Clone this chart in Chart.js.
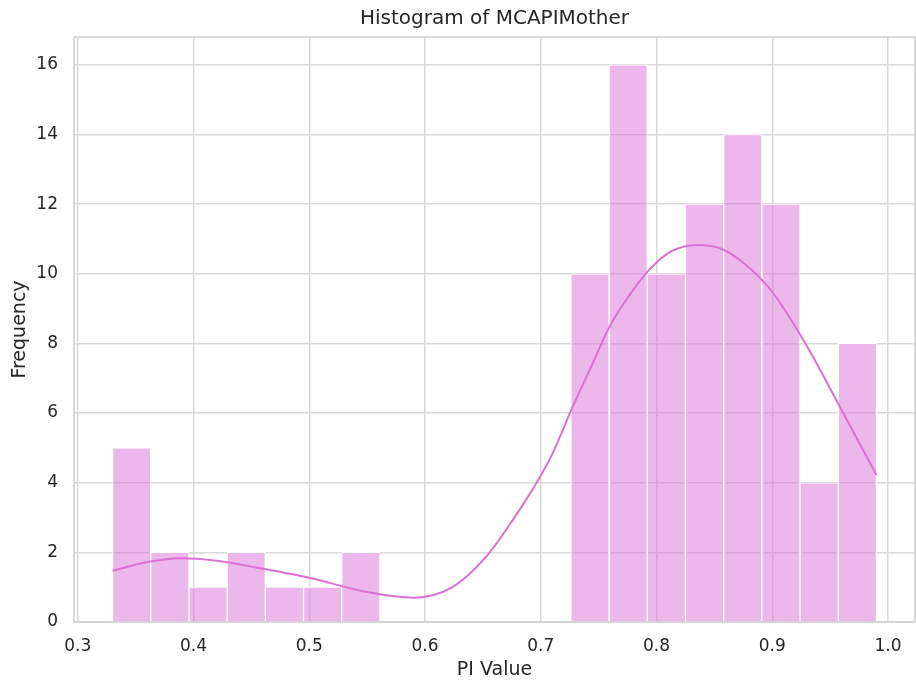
<!DOCTYPE html>
<html>
<head>
<meta charset="utf-8">
<title>Histogram of MCAPIMother</title>
<script src="https://cdn.jsdelivr.net/npm/chart.js@4.4.1/dist/chart.umd.min.js"></script>
<style>
  html, body { margin: 0; padding: 0; background: #ffffff; }
  canvas { display: block; }
</style>
</head>
<body>
<canvas id="hist" width="916" height="682"></canvas>
<script>
// histogram bins (centres, width 0.033) and counts
var binCenters = [0.3465, 0.3795, 0.4125, 0.4455, 0.4785, 0.5115, 0.5445, 0.5775, 0.6105, 0.6435,
                  0.6765, 0.7095, 0.7425, 0.7755, 0.8085, 0.8415, 0.8745, 0.9075, 0.9405, 0.9735];
var binCounts = [5, 2, 1, 2, 1, 1, 2, 0, 0, 0,
                 0, 0, 10, 16, 10, 12, 14, 12, 4, 8];

// kde curve, scaled to counts
var kdeX = [0.33, 0.36, 0.388, 0.42, 0.45, 0.5, 0.55, 0.59, 0.624, 0.6526, 0.6756, 0.6958, 0.71,
            0.7274, 0.7446, 0.759, 0.7734, 0.793, 0.813, 0.836, 0.856, 0.876, 0.899, 0.927, 0.957, 0.99];
var kdeY = [1.47, 1.72, 1.83, 1.76, 1.59, 1.27, 0.86, 0.70, 1.01, 1.87, 2.92, 3.97, 4.83,
            6.17, 7.41, 8.46, 9.23, 10.09, 10.65, 10.83, 10.72, 10.29, 9.52, 8.09, 6.27, 4.22];

var xTicks = [0.3, 0.4, 0.5, 0.6, 0.7, 0.8, 0.9, 1.0];
var xTickLabels = ['0.3', '0.4', '0.5', '0.6', '0.7', '0.8', '0.9', '1.0'];
var yTicks = [0, 2, 4, 6, 8, 10, 12, 14, 16];
var yTickLabels = ['0', '2', '4', '6', '8', '10', '12', '14', '16'];

var textColor = '#262626';
var gridColor = '#d9d9d9';
var fontFamily = "'DejaVu Sans', sans-serif";

var histPoints = [];
for (var i = 0; i < binCenters.length; i++) {
   histPoints.push({ x: binCenters[i], y: binCounts[i] });
}
var kdePoints = [];
for (var j = 0; j < kdeX.length; j++) {
   kdePoints.push({ x: kdeX[j], y: kdeY[j] });
}

// spines on all four sides + title centred over the axes
var framePlugin = {
   id: 'frame',
   afterDatasetsDraw: function (chart) {
      var a = chart.chartArea;
      var ctx = chart.ctx;
      ctx.save();
      ctx.strokeStyle = '#cfcfcf';
      ctx.lineWidth = 1.5;
      ctx.strokeRect(a.left, a.top, a.right - a.left, a.bottom - a.top);
      ctx.restore();
   },
   afterDraw: function (chart) {
      var a = chart.chartArea;
      var ctx = chart.ctx;
      ctx.save();
      ctx.fillStyle = textColor;
      ctx.font = '20px ' + fontFamily;
      ctx.textAlign = 'center';
      ctx.textBaseline = 'middle';
      ctx.fillText('Histogram of MCAPIMother', (a.left + a.right) / 2, 19);
      ctx.restore();
   }
};

var chart = new Chart(document.getElementById('hist'), {
   type: 'bar',
   data: {
      datasets: [
         {
            type: 'line',
            label: 'kde',
            data: kdePoints,
            borderColor: 'rgb(218, 112, 214)',
            borderWidth: 2,
            pointRadius: 0,
            cubicInterpolationMode: 'monotone',
            fill: false,
            order: 0
         },
         {
            label: 'Frequency',
            data: histPoints,
            backgroundColor: 'rgba(218, 112, 214, 0.5)',
            borderColor: '#ffffff',
            borderWidth: 1,
            barPercentage: 1,
            categoryPercentage: 1,
            order: 1
         }
      ]
   },
   options: {
      responsive: false,
      animation: false,
      layout: { padding: { top: 37, right: 1, left: 0, bottom: 0 } },
      plugins: {
         legend: { display: false },
         tooltip: { enabled: false },
         title: { display: false }
      },
      scales: {
         x: {
            type: 'linear',
            offset: false,
            min: 0.2967,
            max: 1.0233,
            afterBuildTicks: function (scale) {
               scale.ticks = xTicks.map(function (v) { return { value: v }; });
            },
            afterFit: function (scale) { scale.height = 60; },
            ticks: {
               color: textColor,
               font: { family: fontFamily, size: 17 },
               padding: 14,
               maxRotation: 0,
               callback: function (v, idx) { return xTickLabels[idx]; }
            },
            grid: { color: gridColor, lineWidth: 1.5, drawTicks: false, offset: false },
            border: { display: false },
            title: {
               display: true,
               text: 'PI Value',
               color: textColor,
               font: { family: fontFamily, size: 19 },
               padding: { top: 0, bottom: 1 }
            }
         },
         y: {
            min: 0,
            max: 16.8,
            afterBuildTicks: function (scale) {
               scale.ticks = yTicks.map(function (v) { return { value: v }; });
            },
            afterFit: function (scale) { scale.width = 74; },
            ticks: {
               color: textColor,
               font: { family: fontFamily, size: 17 },
               padding: 16,
               callback: function (v, idx) { return yTickLabels[idx]; }
            },
            grid: { color: gridColor, lineWidth: 1.5, drawTicks: false },
            border: { display: false },
            title: {
               display: true,
               text: 'Frequency',
               color: textColor,
               font: { family: fontFamily, size: 19 },
               padding: { top: 9, bottom: 0 }
            }
         }
      }
   },
   plugins: [framePlugin]
});
</script>
</body>
</html>
